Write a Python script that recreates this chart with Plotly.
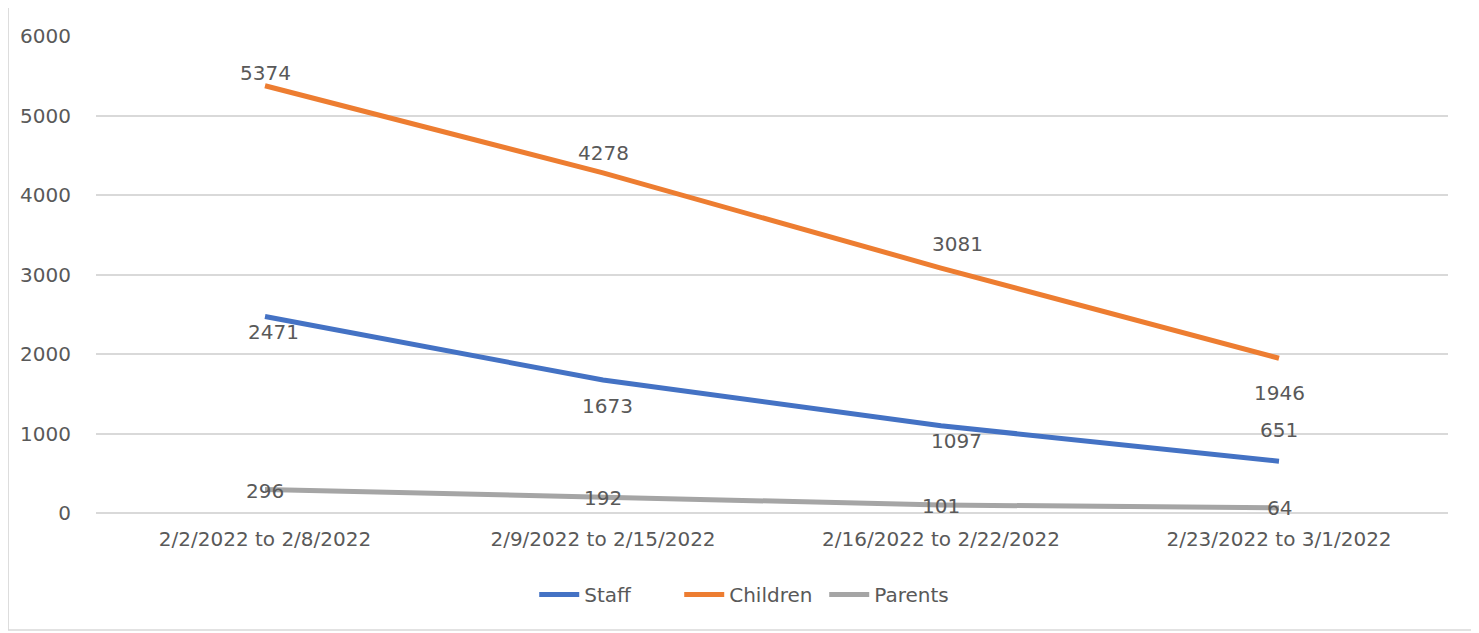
import plotly.graph_objects as go

categories = ["2/2/2022 to 2/8/2022", "2/9/2022 to 2/15/2022",
              "2/16/2022 to 2/22/2022", "2/23/2022 to 3/1/2022"]
staff = [2471, 1673, 1097, 651]
children = [5374, 4278, 3081, 1946]
parents = [296, 192, 101, 64]
y_ticks = [0, 1000, 2000, 3000, 4000, 5000, 6000]

series = [
    ("Staff", staff, "#4472C4", [-15, -26, -15, 31], [8, 4, 15, 0]),
    ("Children", children, "#ED7D31", [13, 20, 24, -35], [0, 0, 16, 0]),
    ("Parents", parents, "#A5A5A5", [-2, 0, -1, 0], [0, 0, 0, 0]),
]

FONT = "DejaVu Sans"
TXT = "#595959"
SZ = 20

# page offset of the figure inside the browser (body margin)
OFF = 7
L, T, PW, PH = 93 - OFF, 35 - OFF, 1354, 477

fig = go.Figure()
annotations = []
for name, vals, color, ysh, xsh in series:
    fig.add_trace(go.Scatter(x=categories, y=vals, mode="lines", name=name,
                             line=dict(color=color, width=5)))
for name, vals, color, ysh, xsh in series:
    for c, v, dy, dx in zip(categories, vals, ysh, xsh):
        annotations.append(dict(x=c, y=v, text=str(v), showarrow=False,
                                yshift=dy, xshift=dx,
                                font=dict(family=FONT, size=SZ, color=TXT)))

fig.update_layout(
    width=1479, height=633,
    margin=dict(l=L, r=1479 - L - PW, t=T, b=633 - T - PH),
    paper_bgcolor="white", plot_bgcolor="white",
    font=dict(family=FONT, size=SZ, color=TXT),
    showlegend=True,
    legend=dict(orientation="h", x=0.485, xanchor="center", y=-0.13, yanchor="top",
                font=dict(family=FONT, size=SZ, color=TXT), itemwidth=40,
                entrywidth=90, traceorder="normal"),
    annotations=annotations,
    shapes=[dict(type="rect", xref="paper", yref="paper",
                 x0=(5 - 93) / PW, x1=(1475 - 93) / PW,
                 y0=(512 - 629) / PH, y1=(512 - 5) / PH,
                 line=dict(color="#D9D9D9", width=1.5), layer="below")],
)
fig.update_xaxes(type="category", range=[-0.5, 3.5], showgrid=False,
                 showline=False, ticks="", ticklabelstandoff=12,
                 tickfont=dict(size=SZ, color=TXT))
fig.update_yaxes(range=[0, 6000], tickvals=y_ticks, showgrid=True,
                 gridcolor="#D9D9D9", gridwidth=1.5, zeroline=True,
                 zerolinecolor="#D9D9D9", zerolinewidth=1.5, showline=False,
                 ticks="", ticklabelstandoff=24, tickfont=dict(size=SZ, color=TXT))

fig.write_html("out.html")
